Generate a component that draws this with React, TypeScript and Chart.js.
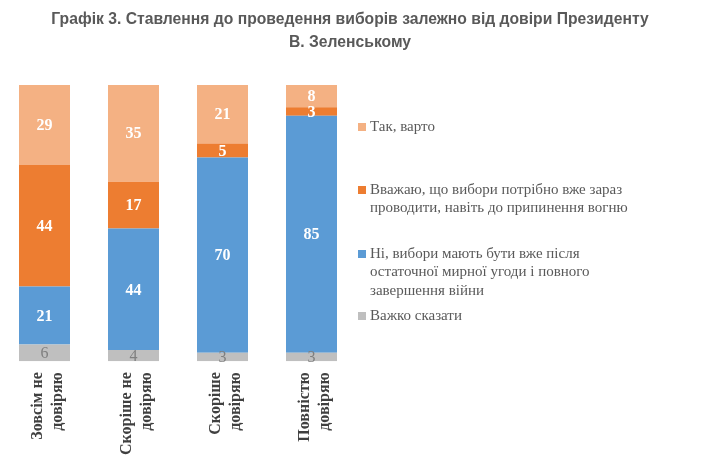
import React, { useEffect, useRef } from 'react';
import Chart from 'chart.js/auto';

// trust groups (x axis), one label line per array entry
const categories: string[][] = [
  ['Зовсім не', 'довіряю'],
  ['Скоріше не', 'довіряю'],
  ['Скоріше', 'довіряю'],
  ['Повністю', 'довіряю'],
];

const titleLines = [
  'Графік 3. Ставлення до проведення виборів залежно від довіри Президенту',
  'В. Зеленському',
];

// series, listed bottom of stack first
const seriesNames: string[][] = [
  ['Важко сказати'],
  ['Ні, вибори мають бути вже після', 'остаточної мирної угоди і повного', 'завершення війни'],
  ['Вважаю, що вибори потрібно вже зараз', 'проводити, навіть до припинення вогню'],
  ['Так, варто'],
];
const hardToSay = [6, 4, 3, 3];
const afterWar = [21, 44, 70, 85];
const rightNow = [44, 17, 5, 3];
const yesWorth = [29, 35, 21, 8];

const colors = ['#BFBFBF', '#5B9BD5', '#ED7D31', '#F4B183'];

const App: React.FC = () => {
  const canvasRef = useRef<HTMLCanvasElement>(null);
  const chartRef = useRef<Chart | null>(null);

  useEffect(() => {
    if (!canvasRef.current) return;
    const ctx = canvasRef.current.getContext('2d');
    if (!ctx) return;

    const raw = [hardToSay, afterWar, rightNow, yesWorth];
    // 100% stacked: each column scaled to its own total
    const totals = categories.map((_, i) => raw.reduce((s, arr) => s + arr[i], 0));
    const pct = raw.map(arr => arr.map((v, i) => (v / totals[i]) * 100));

    const valueLabels = {
      id: 'valueLabels',
      afterDatasetsDraw(chart: Chart) {
        const c = chart.ctx;
        c.save();
        c.textAlign = 'center';
        c.textBaseline = 'middle';
        chart.data.datasets.forEach((ds, di) => {
          const meta = chart.getDatasetMeta(di);
          meta.data.forEach((el: any, i) => {
            const y = (el.y + el.base) / 2;
            if (di === 0) {
              c.font = '16px "Liberation Serif"';
              c.fillStyle = '#7F7F7F';
            } else {
              c.font = 'bold 16px "Liberation Serif"';
              c.fillStyle = '#FFFFFF';
            }
            c.fillText(String(raw[di][i]), el.x, y + 1);
          });
        });
        c.restore();
      },
    };

    // title across the full width (built-in title would be squeezed by the legend padding)
    const wideTitle = {
      id: 'wideTitle',
      afterDraw(chart: Chart) {
        const c = chart.ctx;
        c.save();
        c.font = 'bold 15.7px "Liberation Sans"';
        c.fillStyle = '#595959';
        c.textAlign = 'center';
        c.textBaseline = 'middle';
        titleLines.forEach((line, i) => c.fillText(line, 350, 20 + i * 22.5));
        c.restore();
      },
    };

    const sideLegend = {
      id: 'sideLegend',
      afterDraw(chart: Chart) {
        const c = chart.ctx;
        const firstLineY = [316, 254, 190, 127];
        c.save();
        c.font = '15px "Liberation Serif"';
        c.textBaseline = 'middle';
        c.textAlign = 'left';
        seriesNames.forEach((lines, si) => {
          const y0 = firstLineY[si];
          c.fillStyle = colors[si];
          c.fillRect(358, y0 - 4, 8, 8);
          c.fillStyle = '#595959';
          lines.forEach((line, li) => c.fillText(line, 370, y0 + li * 18.5));
        });
        c.restore();
      },
    };

    chartRef.current = new Chart(ctx, {
      type: 'bar',
      data: {
        labels: categories,
        datasets: pct.map((data, si) => ({
          label: seriesNames[si].join(' '),
          data,
          backgroundColor: colors[si],
          borderWidth: 0,
          categoryPercentage: 1,
          barPercentage: 0.573,
        })),
      },
      options: {
        responsive: false,
        animation: false,
        layout: { padding: { left: 0, right: 348, top: 85, bottom: 15 } },
        plugins: {
          legend: { display: false },
          tooltip: { enabled: false },
          title: { display: false },
        },
        scales: {
          x: {
            stacked: true,
            grid: { display: false },
            border: { display: false },
            ticks: {
              color: '#404040',
              font: { family: '"Liberation Serif"', size: 16, weight: 'bold', lineHeight: 1.3 },
              minRotation: 90,
              maxRotation: 90,
              autoSkip: false,
              padding: 3,
              labelOffset: -7,
            },
          },
          y: {
            stacked: true,
            display: false,
            min: 0,
            max: 100,
          },
        },
      },
      plugins: [valueLabels, wideTitle, sideLegend],
    });

    return () => {
      chartRef.current?.destroy();
      chartRef.current = null;
    };
  }, []);

  return (
    <div style={{ position: 'absolute', left: 0, top: 0, width: 704, height: 473, background: '#fff' }}>
      <canvas ref={canvasRef} width={704} height={473} />
    </div>
  );
};

export default App;
